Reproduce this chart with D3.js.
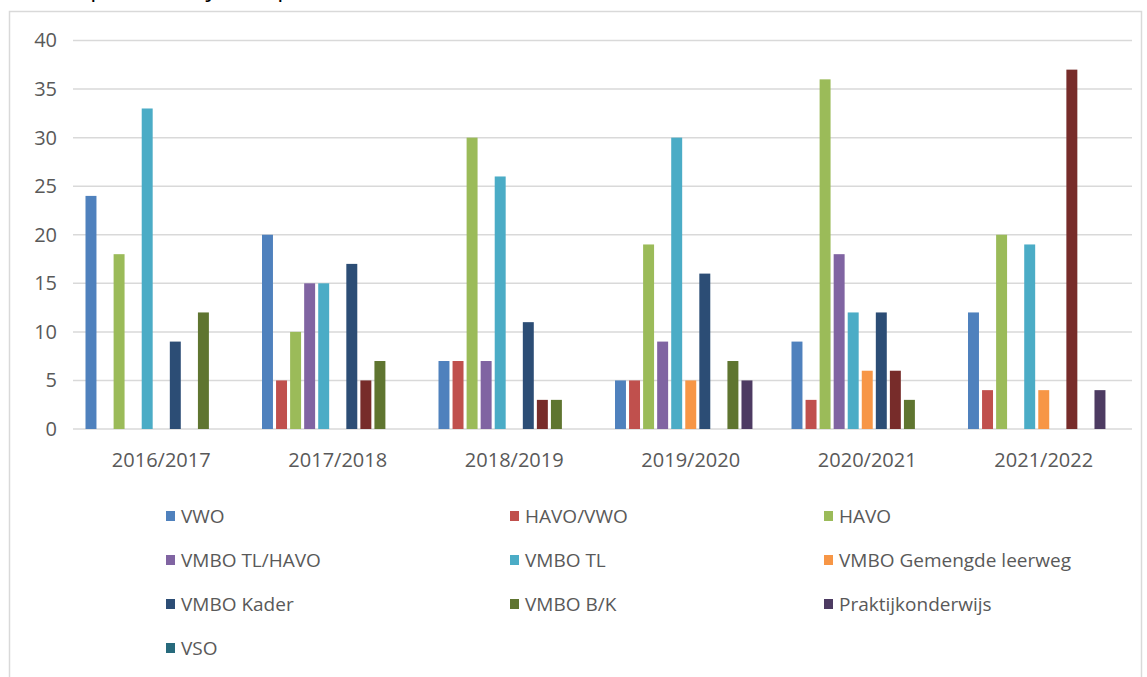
<!DOCTYPE html>
<html>
<head>
<meta charset="utf-8">
<script src="https://cdn.jsdelivr.net/npm/d3@7"></script>
<style>
  html, body { margin: 0; padding: 0; background: #fff; }
  svg { display: block; font-family: "Open Sans", "Noto Sans", sans-serif; }
</style>
</head>
<body>
<div id="chart"></div>
<script>
// Schooljaren (categorieen)
const years = ['2016/2017', '2017/2018', '2018/2019', '2019/2020', '2020/2021', '2021/2022'];

// Waarden per niveau, een waarde per schooljaar
const vwo           = [24, 20, 7, 5, 9, 12];
const havoVwo       = [0, 5, 7, 5, 3, 4];
const havo          = [18, 10, 30, 19, 36, 20];
const vmboTlHavo    = [0, 15, 7, 9, 18, 0];
const vmboTl        = [33, 15, 26, 30, 12, 19];
const vmboGemengd   = [0, 0, 0, 5, 6, 4];
const vmboKader     = [9, 17, 11, 16, 12, 0];
const overig        = [0, 5, 3, 0, 6, 37];   // staat niet in de legenda
const vmboBK        = [12, 7, 3, 7, 3, 0];
const praktijk      = [0, 0, 0, 5, 0, 4];
const vso           = [0, 0, 0, 0, 0, 0];

const seriesNames = ['VWO', 'HAVO/VWO', 'HAVO', 'VMBO TL/HAVO', 'VMBO TL', 'VMBO Gemengde leerweg',
  'VMBO Kader', 'Overig', 'VMBO B/K', 'Praktijkonderwijs', 'VSO'];
const seriesValues = [vwo, havoVwo, havo, vmboTlHavo, vmboTl, vmboGemengd,
  vmboKader, overig, vmboBK, praktijk, vso];
const seriesColors = ['#4F81BD', '#C0504D', '#9BBB59', '#8064A2', '#4BACC6', '#F79646',
  '#2C4D75', '#772C2A', '#5F7530', '#4D3B62', '#276A7C'];
const legendNames = ['VWO', 'HAVO/VWO', 'HAVO', 'VMBO TL/HAVO', 'VMBO TL', 'VMBO Gemengde leerweg',
  'VMBO Kader', 'VMBO B/K', 'Praktijkonderwijs', 'VSO'];
const yTicks = [0, 5, 10, 15, 20, 25, 30, 35, 40];

// Layout
const W = 1147, H = 677;
const plot = { left: 73, right: 1132, top: 40.5, bottom: 429 };
const grey = '#d9d9d9';
const textColor = '#595959';
const font = '"Open Sans", "Noto Sans", sans-serif';

const svg = d3.select('#chart').append('svg')
  .attr('width', W)
  .attr('height', H);

// Title (cut off at the top edge, only the descenders show)
const title = svg.append('text')
  .attr('y', -4)
  .attr('font-size', 24)
  .attr('fill', '#000');
const prefix = svg.append('text').attr('font-size', 24).text('Instroom ');
const prefixWidth = prefix.node().getComputedTextLength();
prefix.remove();
title.attr('x', 84 - prefixWidth).text('Instroom per schooljaar (op niveau)');

// Chart area border
svg.append('path')
  .attr('d', `M9.5,${H} V11.5 H1141.5 V${H}`)
  .attr('fill', 'none')
  .attr('stroke', grey)
  .attr('stroke-width', 1.5);

// Scales
const x0 = d3.scaleBand().domain(years).range([plot.left, plot.right]);
const x1 = d3.scaleBand().domain(seriesNames)
  .range([12.5, x0.bandwidth() - 12.5])
  .paddingInner(0.22);
const y = d3.scaleLinear().domain([0, 40]).range([plot.bottom, plot.top]);

// Gridlines
svg.append('g')
  .selectAll('line')
  .data(yTicks)
  .join('line')
  .attr('x1', plot.left)
  .attr('x2', plot.right)
  .attr('y1', d => y(d))
  .attr('y2', d => y(d))
  .attr('stroke', grey)
  .attr('stroke-width', 1.5);

// Y axis labels
const yAxis = svg.append('g')
  .attr('transform', `translate(${plot.left},0)`)
  .call(d3.axisLeft(y).tickValues(yTicks).tickSize(0).tickPadding(16));
yAxis.select('.domain').remove();
yAxis.selectAll('text')
  .attr('fill', textColor)
  .attr('font-size', 20)
  .attr('font-family', font);

// X axis labels
const xAxis = svg.append('g')
  .attr('transform', `translate(0,${plot.bottom})`)
  .call(d3.axisBottom(x0).tickSize(0).tickPadding(24));
xAxis.select('.domain').remove();
xAxis.selectAll('text')
  .attr('fill', textColor)
  .attr('font-size', 20)
  .attr('font-family', font);

// Bars
const barData = [];
years.forEach((yr, i) => {
  seriesNames.forEach((s, j) => {
    barData.push({ year: yr, series: s, value: seriesValues[j][i], color: seriesColors[j] });
  });
});

svg.append('g')
  .selectAll('rect')
  .data(barData.filter(d => d.value > 0))
  .join('rect')
  .attr('x', d => x0(d.year) + x1(d.series))
  .attr('width', x1.bandwidth())
  .attr('y', d => y(d.value))
  .attr('height', d => y(0) - y(d.value))
  .attr('fill', d => d.color);

// Legend
const legendCols = [166, 510, 824];
const legendRows = [516, 560, 604, 648];
const legend = svg.append('g')
  .selectAll('g')
  .data(legendNames)
  .join('g')
  .attr('transform', (d, i) => `translate(${legendCols[i % 3]},${legendRows[Math.floor(i / 3)]})`);

legend.append('rect')
  .attr('x', 0)
  .attr('y', -5)
  .attr('width', 9)
  .attr('height', 10)
  .attr('fill', d => seriesColors[seriesNames.indexOf(d)]);

legend.append('text')
  .attr('x', 15)
  .attr('dy', '0.35em')
  .attr('font-size', 19)
  .attr('fill', textColor)
  .text(d => d);
</script>
</body>
</html>
